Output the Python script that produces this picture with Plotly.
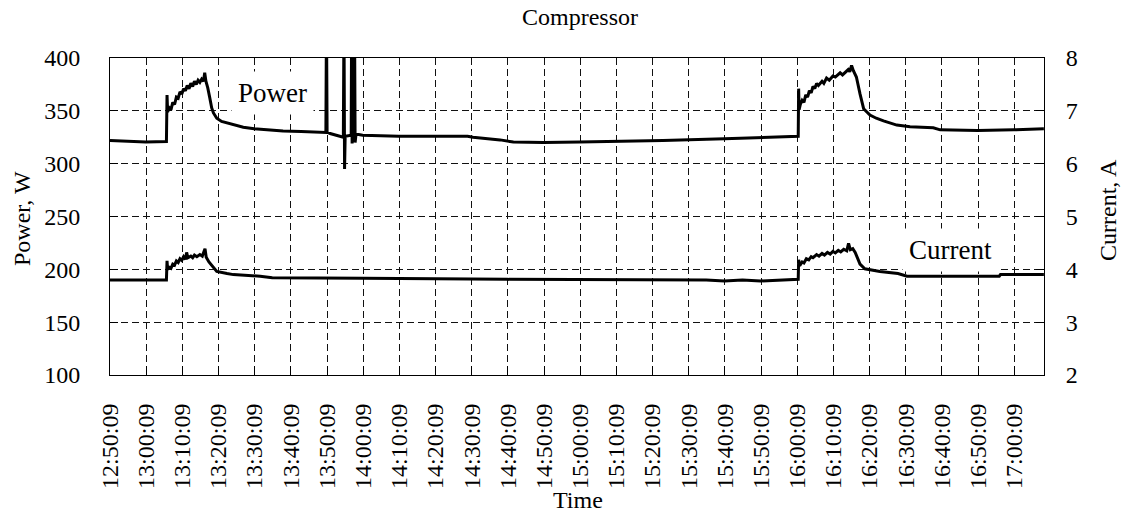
import pandas as pd
import plotly.graph_objects as go

# Compressor log: power (W) and current (A) against clock time
power_time = [
    "12:50:09", "12:55:00", "13:00:00", "13:05:45", "13:05:55", "13:06:05", "13:06:30", "13:07:00",
    "13:07:30", "13:08:00", "13:08:30", "13:09:00", "13:09:30", "13:10:00", "13:10:30", "13:11:00",
    "13:11:30", "13:12:00", "13:12:30", "13:13:00", "13:13:30", "13:14:00", "13:14:30", "13:15:00",
    "13:15:30", "13:16:00", "13:16:20", "13:16:40", "13:17:10", "13:17:45", "13:18:15", "13:18:45",
    "13:19:40", "13:21:00", "13:22:30", "13:25:00", "13:27:00", "13:30:00", "13:33:30", "13:38:00",
    "13:43:00", "13:49:50", "13:50:00", "13:50:10", "13:51:00", "13:54:10", "13:54:40", "13:54:50",
    "13:55:00", "13:55:10", "13:56:50", "13:56:57", "13:57:05", "13:57:45", "13:57:55", "13:58:10",
    "14:00:00", "14:10:00", "14:20:00", "14:29:00", "14:30:30", "14:34:00", "14:38:00", "14:41:40",
    "14:50:00", "15:00:00", "15:10:00", "15:23:00", "15:40:00", "15:50:00", "16:00:25", "16:00:32",
    "16:00:40", "16:01:00", "16:01:30", "16:02:00", "16:02:30", "16:03:00", "16:03:30", "16:04:00",
    "16:04:30", "16:05:00", "16:05:30", "16:06:00", "16:07:00", "16:07:30", "16:08:15", "16:09:00",
    "16:10:00", "16:10:40", "16:12:00", "16:12:40", "16:14:15", "16:14:40", "16:15:10", "16:15:40",
    "16:16:30", "16:17:30", "16:18:30", "16:20:15", "16:22:00", "16:24:00", "16:27:40", "16:31:20",
    "16:37:45", "16:39:40", "16:50:00", "17:00:00", "17:06:20", "17:08:20",
]
power_w = [
    322, 321, 320.5, 321, 365, 349, 353, 351,
    358, 356, 363, 362, 368, 366, 371, 369,
    374, 371, 376, 373, 378, 375, 379, 377,
    380, 378, 386, 378, 372, 362, 353, 348,
    343, 340, 338.5, 336, 334.5, 333, 332, 331,
    330.5, 329.5, 440, 330, 328.5, 326, 325, 440,
    295, 326, 327, 440, 319, 440, 320, 328,
    327, 326, 326, 326, 325, 324, 322.5, 320.5,
    320, 320.5, 321, 322, 323.5, 324.5, 326, 371,
    351, 356, 360, 358, 365, 363, 369, 367,
    373, 371, 376, 374, 378, 376, 381, 379,
    383, 382, 386, 384, 389, 387, 393, 388,
    382, 366, 352, 346, 343, 340.5, 336.5, 335,
    334, 332, 331.5, 332, 332.5, 333,
]

current_time = [
    "12:50:09", "13:05:45", "13:05:55", "13:06:05", "13:06:30", "13:07:00", "13:07:30", "13:08:00",
    "13:08:30", "13:09:00", "13:09:30", "13:10:00", "13:10:30", "13:11:00", "13:11:20", "13:11:40",
    "13:12:30", "13:13:00", "13:13:30", "13:14:10", "13:15:00", "13:15:40", "13:16:25", "13:16:45",
    "13:17:30", "13:18:15", "13:19:40", "13:22:30", "13:24:15", "13:31:40", "13:35:00", "14:00:00",
    "14:20:00", "14:40:00", "15:35:00", "15:40:00", "15:45:00", "15:50:00", "16:00:25", "16:00:32",
    "16:00:50", "16:01:30", "16:02:00", "16:02:40", "16:03:20", "16:04:00", "16:04:30", "16:05:30",
    "16:06:10", "16:07:00", "16:07:40", "16:08:30", "16:09:15", "16:10:00", "16:10:40", "16:11:30",
    "16:12:10", "16:13:00", "16:13:50", "16:14:20", "16:14:50", "16:15:30", "16:16:10", "16:17:30",
    "16:18:50", "16:23:00", "16:28:00", "16:30:30", "16:56:00", "16:56:20", "17:08:20",
]
current_a = [
    3.80, 3.80, 4.16, 4.00, 4.04, 4.02, 4.10, 4.08,
    4.16, 4.13, 4.20, 4.17, 4.24, 4.19, 4.32, 4.22,
    4.25, 4.22, 4.27, 4.24, 4.28, 4.25, 4.39, 4.23,
    4.14, 4.07, 3.96, 3.92, 3.90, 3.87, 3.84, 3.83,
    3.82, 3.81, 3.80, 3.78, 3.80, 3.78, 3.81, 4.18,
    4.07, 4.14, 4.12, 4.20, 4.18, 4.24, 4.22, 4.28,
    4.25, 4.30, 4.27, 4.32, 4.29, 4.34, 4.31, 4.36,
    4.33, 4.38, 4.35, 4.49, 4.37, 4.39, 4.32, 4.10,
    4.01, 3.96, 3.92, 3.87, 3.87, 3.90, 3.90,
]

tick_time = [
    "12:50:09", "13:00:09", "13:10:09", "13:20:09", "13:30:09", "13:40:09", "13:50:09",
    "14:00:09", "14:10:09", "14:20:09", "14:30:09", "14:40:09", "14:50:09", "15:00:09",
    "15:10:09", "15:20:09", "15:30:09", "15:40:09", "15:50:09", "16:00:09", "16:10:09",
    "16:20:09", "16:30:09", "16:40:09", "16:50:09", "17:00:09",
]

DAY = "2000-01-01 "


def stamp(times):
    return pd.to_datetime([DAY + t for t in times])


FONT = "Liberation Serif"
L, R, T, B = 110, 1044, 58, 375  # plot area edges in pixels


def px(xp):
    return (xp - L) / (R - L)


def py(yp):
    return (B - yp) / (B - T)


fig = go.Figure()
fig.add_trace(go.Scatter(
    x=stamp(power_time), y=power_w, mode="lines",
    line=dict(color="black", width=3), name="Power", yaxis="y",
))
fig.add_trace(go.Scatter(
    x=stamp(current_time), y=current_a, mode="lines",
    line=dict(color="black", width=3), name="Current", yaxis="y2",
))

grid = dict(gridcolor="#111111", gridwidth=1, griddash="7px,4px")
frame = dict(showline=True, linecolor="black", linewidth=1)
tickfont = dict(family=FONT, size=24, color="black")

fig.update_layout(
    width=1123, height=513,
    margin=dict(l=L, r=1123 - R, t=T, b=513 - B, pad=0),
    paper_bgcolor="white", plot_bgcolor="white",
    showlegend=False,
    font=dict(family=FONT, size=24, color="black"),
    xaxis=dict(
        type="date",
        range=[DAY + "12:50:09", DAY + "17:08:22"],
        tickmode="array",
        tickvals=stamp(tick_time),
        ticktext=tick_time,
        tickangle=-90, tickfont=tickfont,
        ticks="inside", ticklen=9, tickcolor="black",
        ticklabelstandoff=18,
        showgrid=True, **grid, mirror=True, **frame,
        zeroline=False,
    ),
    yaxis=dict(
        range=[100, 400], tickvals=[100, 150, 200, 250, 300, 350, 400],
        tickfont=tickfont,
        ticks="inside", ticklen=8, tickcolor="black",
        ticklabelstandoff=24,
        showgrid=True, **grid, mirror=True, **frame, zeroline=False,
    ),
    yaxis2=dict(
        range=[2, 8], tickvals=[2, 3, 4, 5, 6, 7, 8],
        overlaying="y", side="right", tickfont=tickfont,
        ticks="inside", ticklen=8, tickcolor="black",
        ticklabelstandoff=16,
        showgrid=False, **frame, zeroline=False,
    ),
)

notes = [
    dict(text="Compressor", x=px(580), y=py(17), size=24, angle=0, bg=None),
    dict(text="Time", x=px(578), y=py(500), size=24, angle=0, bg=None),
    dict(text="Power, W", x=px(22), y=py(219), size=24, angle=-90, bg=None),
    dict(text="Current, A", x=px(1108), y=py(210), size=24, angle=-90, bg=None),
    dict(text="Power", x=px(272), y=py(93), size=27, angle=0, bg="white"),
    dict(text="Current", x=px(950), y=py(250), size=27, angle=0, bg="white"),
]
for n in notes:
    fig.add_annotation(
        text=n["text"], x=n["x"], y=n["y"], xref="paper", yref="paper",
        xanchor="center", yanchor="middle", showarrow=False, textangle=n["angle"],
        font=dict(family=FONT, size=n["size"], color="black"),
        bgcolor=n["bg"] if n["bg"] else "rgba(0,0,0,0)",
        borderpad=6 if n["bg"] else 0,
    )

fig.write_html("out.html")
